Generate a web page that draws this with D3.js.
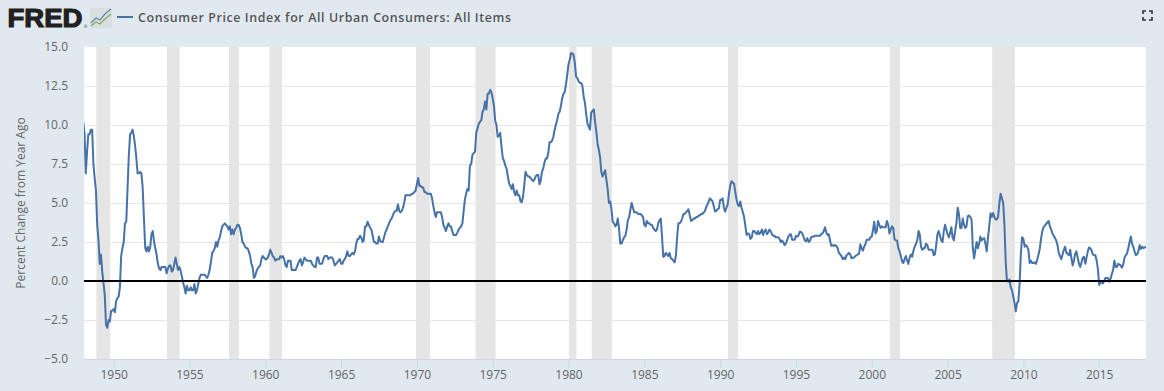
<!DOCTYPE html>
<html><head><meta charset="utf-8">
<script src="https://cdn.jsdelivr.net/npm/d3@7"></script>
<style>
html,body{margin:0;padding:0;background:#e1e9f0;overflow:hidden}
svg{display:block}
text{font-family:"Open Sans",sans-serif}
</style></head><body>
<div id="chart"></div>
<script>
const seriesName = "Consumer Price Index for All Urban Consumers: All Items";
const yTitle = "Percent Change from Year Ago";
const yTicks = [-5, -2.5, 0, 2.5, 5, 7.5, 10, 12.5, 15];
const xTickYears = [1950,1955,1960,1965,1970,1975,1980,1985,1990,1995,2000,2005,2010,2015];
const startYear = 1948;
// recessions as [start, end] in "YYYY-MM"
const recessions = [["1948-11","1949-10"],["1953-07","1954-05"],["1957-08","1958-04"],["1960-04","1961-02"],
  ["1969-12","1970-11"],["1973-11","1975-03"],["1980-01","1980-07"],["1981-07","1982-11"],
  ["1990-07","1991-03"],["2001-03","2001-11"],["2007-12","2009-06"]];
// monthly percent change, one row per year
const values = [
/*1948*/10.2,9.4,6.9,8.3,9.4,9.4,9.7,9.7,7.5,6.6,5.8,3.6,
/*1949*/2.6,1.1,1.7,.6,-.1,-.9,-2.8,-3.0,-2.5,-2.6,-1.9,-1.9,
/*1950*/-1.8,-2.0,-1.3,-1.1,-1.0,-.4,1.6,2.1,2.5,3.7,3.8,5.9,
/*1951*/8.0,9.4,9.5,9.7,9.3,8.7,7.9,6.9,6.9,7.0,6.9,6.0,
/*1952*/4.0,2.1,1.9,2.2,1.9,2.2,3.0,3.2,2.5,2.1,1.7,1.1,
/*1953*/.8,.7,.9,.9,.9,.9,.5,.8,1.0,1.0,.6,.7,
/*1954*/1.1,1.5,1.1,.7,.9,.7,.3,-.1,-.4,-.8,-.3,-.6,
/*1955*/-.6,-.4,-.6,-.6,-.2,-.8,-.6,-.2,.2,.4,.4,.4,
/*1956*/.4,.3,.2,.4,.7,1.2,1.8,1.9,2.1,2.5,2.2,2.6,
/*1957*/2.8,3.2,3.5,3.6,3.7,3.6,3.5,3.3,3.5,3.0,3.3,3.0,
/*1958*/3.3,3.4,3.6,3.6,3.4,3.0,2.5,2.4,2.2,2.1,2.1,1.9,
/*1959*/1.6,1.1,.9,.2,.3,.6,.8,.9,1.0,1.4,1.6,1.5,
/*1960*/1.4,1.4,1.5,1.7,2.0,1.8,1.6,1.5,1.3,1.4,1.4,1.4,
/*1961*/1.6,1.5,1.6,1.4,1.0,.9,1.3,1.3,1.3,.7,.7,.7,
/*1962*/.7,.9,1.1,1.3,1.4,1.0,1.2,1.5,1.4,1.3,1.3,1.3,
/*1963*/1.3,1.1,1.0,.9,.9,1.5,1.5,1.1,1.1,1.1,1.4,1.6,
/*1964*/1.6,1.6,1.4,1.5,1.5,1.5,1.3,1.0,1.1,1.2,1.3,1.4,
/*1965*/1.1,1.1,1.3,1.4,1.6,1.9,1.6,1.6,1.7,1.8,1.7,1.9,
/*1966*/2.4,2.7,2.7,2.9,2.8,2.5,2.6,3.5,3.5,3.8,3.6,3.4,
/*1967*/3.3,2.9,2.5,2.5,2.4,2.4,2.85,2.55,2.5,2.5,2.8,3.1,
/*1968*/3.3,3.5,3.7,3.9,4.0,4.2,4.4,4.5,4.5,4.9,4.5,4.4,
/*1969*/4.5,4.7,5.0,5.5,5.5,5.5,5.5,5.5,5.6,5.6,5.7,5.8,
/*1970*/6.2,6.6,6.1,6.1,6.0,6.0,5.7,5.7,5.6,5.6,5.6,5.6,
/*1971*/5.3,4.8,4.4,4.1,4.4,4.4,4.4,4.4,4.1,3.6,3.4,3.2,
/*1972*/3.5,3.7,3.5,3.5,3.2,2.95,2.95,2.95,3.1,3.3,3.4,3.5,
/*1973*/3.7,4.5,5.2,5.6,5.9,5.8,7.4,7.5,8.1,8.2,8.3,9.5,
/*1974*/9.8,10.1,10.2,10.3,10.85,11.0,11.5,11.0,12.0,12.0,12.25,12.1,
/*1975*/11.7,11.2,10.3,10.0,9.25,9.3,9.5,8.6,7.9,7.7,7.4,7.2,
/*1976*/6.7,6.25,6.1,5.9,6.2,5.7,5.5,5.8,5.5,5.5,5.1,5.05,
/*1977*/5.4,6.2,7.0,6.8,6.7,6.7,6.6,6.5,6.4,6.5,6.7,6.8,
/*1978*/6.8,6.2,6.4,7.0,7.2,7.6,7.85,7.85,8.2,8.9,8.9,9.0,
/*1979*/9.25,9.7,10.0,10.3,10.7,10.85,11.2,11.7,12.0,12.1,12.6,13.2,
/*1980*/13.9,14.2,14.6,14.6,14.5,14.0,13.1,13.0,12.8,12.7,12.7,12.5,
/*1981*/11.8,11.4,10.7,10.1,9.9,9.7,10.8,10.9,11.0,10.2,9.6,8.8,
/*1982*/8.4,7.9,7.0,6.7,6.9,7.1,6.5,5.9,5.0,5.1,4.6,3.8,
/*1983*/3.7,3.5,3.6,4.0,3.4,2.4,2.4,2.6,2.8,2.9,3.3,3.9,
/*1984*/4.1,4.6,5.0,4.7,4.4,4.4,4.4,4.3,4.3,4.3,4.2,4.1,
/*1985*/3.6,3.5,3.85,3.7,3.7,3.6,3.6,3.4,3.3,3.2,3.3,3.7,
/*1986*/3.9,4.0,2.9,1.55,1.6,1.8,1.7,1.6,1.8,1.45,1.4,1.3,
/*1987*/1.2,1.65,2.8,3.7,3.7,3.8,4.0,4.3,4.3,4.4,4.5,4.6,
/*1988*/4.2,3.85,3.9,4.0,4.0,4.1,4.1,4.2,4.2,4.3,4.3,4.4,
/*1989*/4.5,4.75,4.9,5.1,5.3,5.2,5.1,4.8,4.45,4.5,4.6,4.65,
/*1990*/5.2,5.2,5.3,4.7,4.45,4.7,4.9,5.6,6.1,6.4,6.3,6.25,
/*1991*/5.7,5.2,4.9,4.8,5.1,4.7,4.4,4.1,3.5,2.95,3.05,3.0,
/*1992*/2.7,2.8,3.2,3.2,3.1,3.0,3.2,3.0,3.1,3.3,2.95,3.2,
/*1993*/3.3,3.0,3.1,3.3,3.2,3.0,2.9,2.9,2.8,2.8,2.8,2.7,
/*1994*/2.5,2.6,2.5,2.3,2.4,2.6,2.85,2.95,3.0,2.65,2.65,2.65,
/*1995*/2.9,2.85,2.9,3.15,3.15,3.05,2.85,2.6,2.55,2.75,2.5,2.55,
/*1996*/2.8,2.85,2.85,2.9,2.9,2.9,2.9,2.9,3.0,3.05,3.2,3.45,
/*1997*/3.1,2.95,3.0,2.6,2.25,2.3,2.25,2.3,2.25,2.1,1.8,1.7,
/*1998*/1.6,1.4,1.5,1.4,1.65,1.7,1.8,1.7,1.45,1.5,1.5,1.6,
/*1999*/1.65,1.7,1.75,2.35,2.1,1.95,2.2,2.35,2.65,2.65,2.65,2.8,
/*2000*/2.85,3.3,3.8,3.05,3.2,3.85,3.6,3.4,3.5,3.45,3.45,3.45,
/*2001*/3.85,3.6,3.05,3.3,3.5,3.4,2.7,2.6,2.6,2.1,1.9,1.6,
/*2002*/1.25,1.15,1.4,1.6,1.3,1.1,1.5,1.7,1.55,1.95,2.2,2.4,
/*2003*/2.6,3.2,3.0,2.2,2.0,2.1,2.1,2.4,2.3,2.0,2.0,2.0,
/*2004*/2.0,1.65,1.7,2.3,3.0,3.2,2.9,2.6,2.5,3.2,3.6,3.3,
/*2005*/3.0,2.8,3.1,3.45,2.8,2.6,3.2,3.7,4.7,4.3,3.4,3.4,
/*2006*/4.0,3.6,3.4,3.5,4.15,4.2,4.1,3.95,2.1,1.45,2.0,2.5,
/*2007*/2.1,2.4,2.85,2.6,2.7,2.75,2.4,1.9,2.8,3.5,4.35,4.1,
/*2008*/4.35,4.1,3.95,3.95,4.1,5.0,5.6,5.3,5.0,3.6,1.2,0.0,
/*2009*/-.05,.1,-.4,-.6,-1.0,-1.4,-1.95,-1.4,-1.3,-.2,1.8,2.8,
/*2010*/2.7,2.2,2.3,2.2,2.0,1.15,1.3,1.15,1.15,1.2,1.1,1.4,
/*2011*/1.7,2.1,2.7,3.2,3.45,3.55,3.65,3.75,3.85,3.5,3.3,3.05,
/*2012*/2.9,2.75,2.6,2.3,1.8,1.6,1.4,1.7,2.0,2.2,1.8,1.75,
/*2013*/1.65,2.0,1.5,1.0,1.3,1.75,1.9,1.5,1.1,.9,1.2,1.5,
/*2014*/1.55,1.1,1.5,1.9,2.15,2.1,1.95,1.7,1.65,1.65,1.3,.75,
/*2015*/-.25,-.05,-.1,-.15,0,.2,.2,.2,-.05,.15,.45,.7,
/*2016*/1.3,.9,.9,1.1,1.05,1.0,.85,1.05,1.5,1.65,1.75,2.1,
/*2017*/2.5,2.85,2.4,2.2,1.9,1.65,1.7,1.9,2.3,2.05,2.2,2.1,
/*2018*/2.15,2.2
];
if (values.length !== 842) throw new Error("values length " + values.length);

const W = 1164, H = 391;
const plot = {left:84, right:1146, top:47, bottom:359};
const dates = values.map((_, i) => new Date(startYear, i, 1));
const x = d3.scaleTime().domain([new Date(startYear,0,1), new Date(2018,1,1)]).range([83.3, 1146]);
const y = d3.scaleLinear().domain([-5,15]).range([plot.bottom, plot.top]);
const ym = s => { const [a,b] = s.split("-").map(Number); return new Date(a,b-1,1); };

const svg = d3.select("#chart").append("svg").attr("width",W).attr("height",H);
svg.append("rect").attr("width",W).attr("height",H).attr("fill","#e1e9f0");
svg.append("defs").append("clipPath").attr("id","plotclip").append("rect")
  .attr("x",plot.left).attr("y",plot.top).attr("width",plot.right-plot.left).attr("height",plot.bottom-plot.top);
svg.append("rect").attr("x",plot.left).attr("y",plot.top).attr("width",plot.right-plot.left)
  .attr("height",plot.bottom-plot.top).attr("fill","#fff");

// gridlines
svg.append("g").selectAll("line").data(yTicks.filter(d=>d>-5&&d<15)).join("line")
  .attr("x1",plot.left).attr("x2",plot.right)
  .attr("y1",d=>Math.round(y(d))+.5).attr("y2",d=>Math.round(y(d))+.5)
  .attr("stroke","#e6e6e6").attr("stroke-width",1);

// recessions
svg.append("g").selectAll("rect").data(recessions).join("rect")
  .attr("x",d=>x(ym(d[0]))+.4).attr("width",d=>x(ym(d[1]))-x(ym(d[0])))
  .attr("y",plot.top).attr("height",plot.bottom-plot.top).attr("fill","#e5e5e5");

// y axis
const gy = svg.append("g").attr("transform",`translate(${plot.left},0)`)
  .call(d3.axisLeft(y).tickValues(yTicks).tickFormat(d3.format(".1f")).tickSize(0).tickPadding(16));
gy.select(".domain").remove();
gy.selectAll("text").attr("fill","#666").style("font-size","12px").style("font-family",'"Open Sans",sans-serif');

// x axis
const gx = svg.append("g").attr("transform",`translate(0,${plot.bottom})`)
  .call(d3.axisBottom(x).tickValues(xTickYears.map(v=>new Date(v,0,1))).tickFormat(d3.timeFormat("%Y")).tickSize(9).tickPadding(2));
gx.select(".domain").attr("d",`M${plot.left},0.5H${plot.right}`).attr("stroke","#ccd6eb");
gx.selectAll("line").attr("stroke","#ccd6eb");
gx.selectAll("text").attr("fill","#666").style("font-size","12px").style("font-family",'"Open Sans",sans-serif');

svg.append("text").attr("transform","translate(25,203) rotate(-90)").attr("text-anchor","middle")
  .attr("fill","#666").style("font-size","12px").text(yTitle);

// series
const line = d3.line().x((d,i)=>x(dates[i])).y(d=>y(d));
svg.append("path").datum(values).attr("clip-path","url(#plotclip)")
  .attr("d",line).attr("fill","none").attr("stroke","#4572a7").attr("stroke-width",2).attr("stroke-linejoin","round");

// zero line
svg.append("line").attr("x1",plot.left).attr("x2",plot.right).attr("y1",y(0)).attr("y2",y(0))
  .attr("stroke","#000").attr("stroke-width",2);

// header
svg.append("text").attr("x",7.5).attr("y",27).attr("fill","#231f20")
  .style("font-family",'"Liberation Sans",sans-serif').style("font-weight",700).style("font-size","25px")
  .attr("stroke","#231f20").attr("stroke-width",1.1).attr("textLength",75).attr("lengthAdjust","spacingAndGlyphs").text("FRED");
svg.append("text").attr("x",84).attr("y",28).attr("fill","#231f20").style("font-size","4px").text("®");
const icon = svg.append("g").attr("transform","translate(90,8)");
icon.append("rect").attr("width",22).attr("height",20).attr("rx",2).attr("fill","#d9dee0");
icon.append("path").attr("d","M1,15L6,10L10,12L15,6L21,1").attr("fill","none").attr("stroke","#5f8aa8").attr("stroke-width",1.2);
icon.append("path").attr("d","M1,18L6,14L10,16L15,11L21,6").attr("fill","none").attr("stroke","#86a95c").attr("stroke-width",1.2);
svg.append("line").attr("x1",117).attr("x2",133).attr("y1",17).attr("y2",17).attr("stroke","#4572a7").attr("stroke-width",2);
svg.append("text").attr("x",138).attr("y",21.5).attr("fill","#555").style("font-size","12.4px").style("font-weight",600)
  .attr("textLength",373).text(seriesName);

// fullscreen glyph
const fs = svg.append("g").attr("fill","none").attr("stroke","#333").attr("stroke-width",1.6);
["M1143,14V11H1146","M1149,11H1152V14","M1143,17V20H1146","M1149,20H1152V17"].forEach(d=>fs.append("path").attr("d",d));
</script>
</body></html>
